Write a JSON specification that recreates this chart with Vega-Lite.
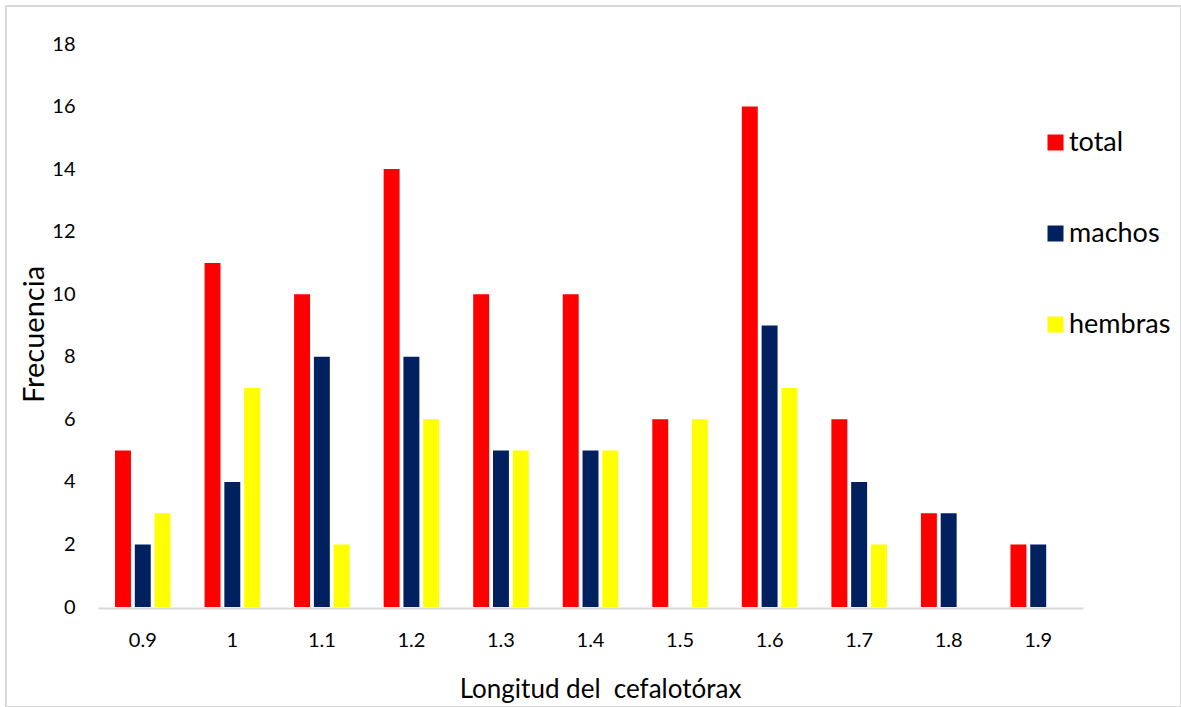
{
  "$schema": "https://vega.github.io/schema/vega-lite/v6.json",
  "autosize": {"type": "none"},
  "width": 1175,
  "height": 701,
  "padding": {"left": 6, "top": 6, "right": 0, "bottom": 0},
  "background": "white",
  "config": {
    "font": "Lato",
    "view": {"stroke": "#d9d9d9", "strokeWidth": 2},
    "axis": {"grid": false, "ticks": false, "labelColor": "#000000", "titleColor": "#000000", "titleFontWeight": "normal", "labelFont": "Lato", "titleFont": "Lato"},
    "legend": {"labelFont": "Lato"}
  },
  "data": {
    "values": [
      {"longitud": "0.9", "grupo": "total", "frecuencia": 5},
      {"longitud": "0.9", "grupo": "machos", "frecuencia": 2},
      {"longitud": "0.9", "grupo": "hembras", "frecuencia": 3},
      {"longitud": "1", "grupo": "total", "frecuencia": 11},
      {"longitud": "1", "grupo": "machos", "frecuencia": 4},
      {"longitud": "1", "grupo": "hembras", "frecuencia": 7},
      {"longitud": "1.1", "grupo": "total", "frecuencia": 10},
      {"longitud": "1.1", "grupo": "machos", "frecuencia": 8},
      {"longitud": "1.1", "grupo": "hembras", "frecuencia": 2},
      {"longitud": "1.2", "grupo": "total", "frecuencia": 14},
      {"longitud": "1.2", "grupo": "machos", "frecuencia": 8},
      {"longitud": "1.2", "grupo": "hembras", "frecuencia": 6},
      {"longitud": "1.3", "grupo": "total", "frecuencia": 10},
      {"longitud": "1.3", "grupo": "machos", "frecuencia": 5},
      {"longitud": "1.3", "grupo": "hembras", "frecuencia": 5},
      {"longitud": "1.4", "grupo": "total", "frecuencia": 10},
      {"longitud": "1.4", "grupo": "machos", "frecuencia": 5},
      {"longitud": "1.4", "grupo": "hembras", "frecuencia": 5},
      {"longitud": "1.5", "grupo": "total", "frecuencia": 6},
      {"longitud": "1.5", "grupo": "machos", "frecuencia": 0},
      {"longitud": "1.5", "grupo": "hembras", "frecuencia": 6},
      {"longitud": "1.6", "grupo": "total", "frecuencia": 16},
      {"longitud": "1.6", "grupo": "machos", "frecuencia": 9},
      {"longitud": "1.6", "grupo": "hembras", "frecuencia": 7},
      {"longitud": "1.7", "grupo": "total", "frecuencia": 6},
      {"longitud": "1.7", "grupo": "machos", "frecuencia": 4},
      {"longitud": "1.7", "grupo": "hembras", "frecuencia": 2},
      {"longitud": "1.8", "grupo": "total", "frecuencia": 3},
      {"longitud": "1.8", "grupo": "machos", "frecuencia": 3},
      {"longitud": "1.8", "grupo": "hembras", "frecuencia": 0},
      {"longitud": "1.9", "grupo": "total", "frecuencia": 2},
      {"longitud": "1.9", "grupo": "machos", "frecuencia": 2},
      {"longitud": "1.9", "grupo": "hembras", "frecuencia": 0}
    ]
  },
  "mark": {"type": "bar"},
  "encoding": {
    "x": {
      "field": "longitud",
      "type": "nominal",
      "sort": null,
      "scale": {"range": [92, 1077], "paddingInner": 0.38, "paddingOuter": 0.19},
      "axis": {
        "title": "Longitud del\u00a0 cefalotórax",
        "labelAngle": 0,
        "labelFontSize": 20,
        "labelPadding": 22,
        "offset": -99,
        "domainColor": "#d9d9d9",
        "domainWidth": 2,
        "titleFontSize": 26,
        "titleX": 594,
        "titleY": 89,
        "titleBaseline": "alphabetic"
      }
    },
    "xOffset": {
      "field": "grupo",
      "type": "nominal",
      "sort": ["total", "machos", "hembras"],
      "scale": {"paddingInner": 0.194, "paddingOuter": 0}
    },
    "y": {
      "field": "frecuencia",
      "type": "quantitative",
      "scale": {"domain": [0, 18], "range": [601, 38], "nice": false},
      "axis": {
        "title": "Frecuencia",
        "values": [0, 2, 4, 6, 8, 10, 12, 14, 16, 18],
        "domain": false,
        "labelFontSize": 20,
        "labelPadding": 5,
        "offset": -74,
        "titleFontSize": 29,
        "titleX": -37,
        "titleY": 328,
        "titleAngle": 270,
        "titleAlign": "center",
        "titleBaseline": "alphabetic"
      }
    },
    "color": {
      "field": "grupo",
      "type": "nominal",
      "scale": {"domain": ["total", "machos", "hembras"], "range": ["#ff0000", "#002060", "#ffff00"]},
      "legend": {
        "title": null,
        "orient": "none",
        "legendX": 1036,
        "legendY": 123,
        "padding": 0,
        "symbolType": "square",
        "symbolSize": 256,
        "symbolStrokeWidth": 0,
        "symbolOpacity": 1,
        "labelFontSize": 27,
        "labelColor": "#000000",
        "labelOffset": 0,
        "rowPadding": 63
      }
    }
  }
}
